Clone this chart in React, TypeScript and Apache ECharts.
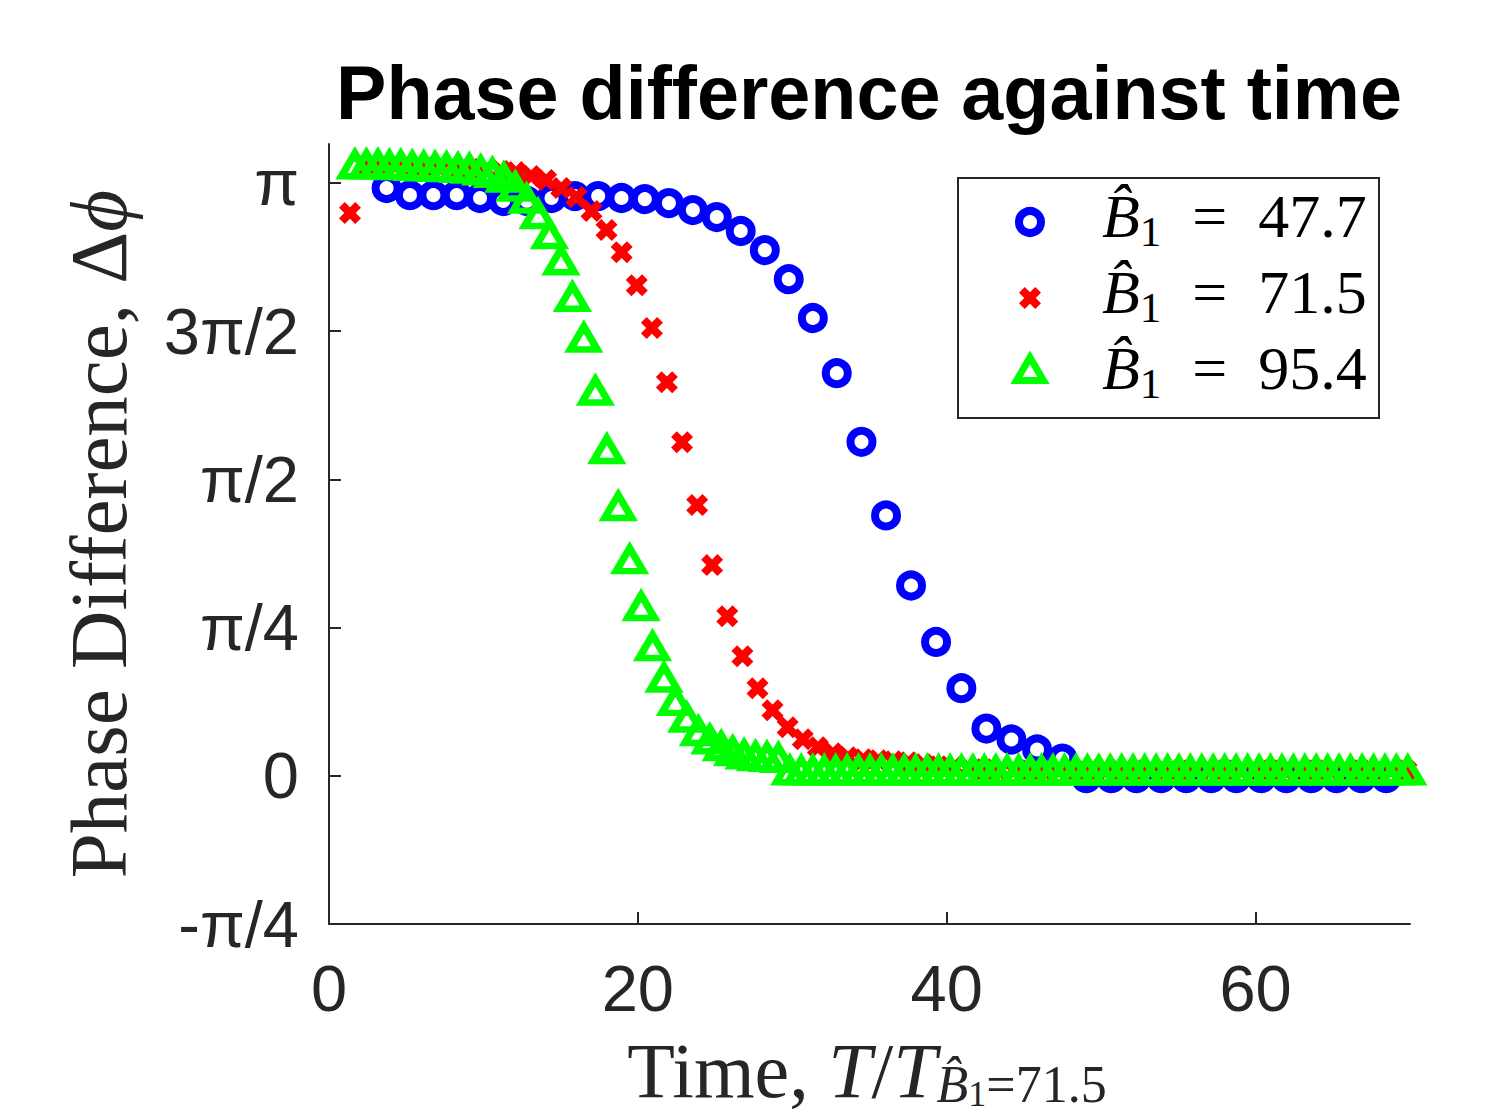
import React, { useEffect, useRef } from 'react';
import * as echarts from 'echarts';

const PI = Math.PI;

const titleText = 'Phase difference against time';
const xTicks = [0, 20, 40, 60];
const yTickValues = [-PI / 4, 0, PI / 4, PI / 2, (3 * PI) / 4, PI];
const yTickLabels = ['-π/4', '0', 'π/4', 'π/2', '3π/2', 'π'];
const legendValues = ['47.7', '71.5', '95.4'];

// B1 = 47.7 (blue circles)
const blueX = [3.73, 5.24, 6.76, 8.27, 9.78, 11.29, 12.82, 14.41, 15.92, 17.43, 18.94, 20.45, 22.01, 23.56, 25.11, 26.66, 28.22, 29.77, 31.33, 32.88, 34.48, 36.07, 37.69, 39.31, 40.95, 42.57, 44.19, 45.85, 47.49, 49.04, 50.66, 52.28, 53.89, 55.51, 57.13, 58.75, 60.37, 61.99, 63.61, 65.23, 66.85, 68.46];
const blueY = [3.114, 3.076, 3.076, 3.076, 3.061, 3.045, 3.045, 3.061, 3.071, 3.071, 3.061, 3.055, 3.034, 2.997, 2.96, 2.886, 2.785, 2.631, 2.425, 2.133, 1.769, 1.379, 1.008, 0.709, 0.464, 0.25, 0.192, 0.139, 0.091, -0.013, -0.013, -0.013, -0.013, -0.013, -0.013, -0.013, -0.013, -0.013, -0.013, -0.013, -0.013, -0.013];

// B1 = 71.5 (red crosses)
const redX = [1.36, 2.34, 3.31, 4.29, 5.27, 6.25, 7.22, 8.2, 9.18, 10.16, 11.13, 12.11, 13.09, 14.06, 15.04, 16.02, 17.0, 17.97, 18.95, 19.93, 20.91, 21.88, 22.86, 23.84, 24.81, 25.79, 26.77, 27.75, 28.72, 29.7, 30.68, 31.66, 32.63, 33.61, 34.59, 35.57, 36.54, 37.52, 38.5, 39.47, 40.45, 41.43, 42.41, 43.38, 44.36, 45.34, 46.32, 47.29, 48.27, 49.25, 50.23, 51.2, 52.18, 53.16, 54.13, 55.11, 56.09, 57.07, 58.04, 59.02, 60.0, 60.98, 61.95, 62.93, 63.91, 64.88, 65.86, 66.84, 67.82, 68.79, 69.77];
const redY = [2.981, 3.23, 3.23, 3.23, 3.225, 3.225, 3.219, 3.219, 3.214, 3.209, 3.204, 3.198, 3.177, 3.156, 3.114, 3.066, 2.992, 2.891, 2.774, 2.599, 2.372, 2.085, 1.767, 1.434, 1.116, 0.845, 0.633, 0.464, 0.347, 0.257, 0.193, 0.151, 0.119, 0.098, 0.087, 0.082, 0.077, 0.072, 0.061, 0.05, 0.045, 0.04, 0.034, 0.029, 0.029, 0.029, 0.029, 0.029, 0.029, 0.029, 0.029, 0.029, 0.029, 0.029, 0.029, 0.029, 0.029, 0.029, 0.029, 0.029, 0.029, 0.029, 0.029, 0.029, 0.029, 0.029, 0.029, 0.029, 0.029, 0.029, 0.029];

// B1 = 95.4 (green triangles)
const greenX = [1.68, 2.42, 3.17, 3.91, 4.65, 5.39, 6.13, 6.87, 7.61, 8.35, 9.09, 9.83, 10.58, 11.32, 12.06, 12.8, 13.54, 14.28, 15.02, 15.76, 16.5, 17.25, 17.99, 18.73, 19.47, 20.21, 20.95, 21.69, 22.43, 23.17, 23.92, 24.66, 25.4, 26.14, 26.88, 27.62, 28.36, 29.1, 29.84, 30.58, 31.33, 32.07, 32.81, 33.55, 34.29, 35.03, 35.77, 36.51, 37.25, 37.99, 38.74, 39.48, 40.22, 40.96, 41.7, 42.44, 43.18, 43.92, 44.66, 45.41, 46.15, 46.89, 47.63, 48.37, 49.11, 49.85, 50.59, 51.33, 52.07, 52.82, 53.56, 54.3, 55.04, 55.78, 56.52, 57.26, 58.0, 58.74, 59.49, 60.23, 60.97, 61.71, 62.45, 63.19, 63.93, 64.67, 65.41, 66.15, 66.9, 67.64, 68.38, 69.12, 69.86];
const greenY = [3.237, 3.237, 3.237, 3.233, 3.233, 3.229, 3.227, 3.224, 3.222, 3.218, 3.215, 3.205, 3.192, 3.167, 3.119, 3.055, 2.973, 2.867, 2.729, 2.535, 2.319, 2.038, 1.728, 1.427, 1.145, 0.897, 0.685, 0.518, 0.394, 0.306, 0.235, 0.191, 0.155, 0.129, 0.111, 0.102, 0.098, 0.093, 0.026, 0.026, 0.026, 0.026, 0.026, 0.026, 0.026, 0.026, 0.026, 0.026, 0.026, 0.026, 0.026, 0.026, 0.026, 0.026, 0.026, 0.026, 0.026, 0.026, 0.026, 0.026, 0.026, 0.026, 0.026, 0.026, 0.026, 0.026, 0.026, 0.026, 0.026, 0.026, 0.026, 0.026, 0.026, 0.026, 0.026, 0.026, 0.026, 0.026, 0.026, 0.026, 0.026, 0.026, 0.026, 0.026, 0.026, 0.026, 0.026, 0.026, 0.026, 0.026, 0.026, 0.026, 0.026];

const zip = (xs: number[], ys: number[]) => xs.map((x, i) => [x, ys[i]]);

const BLUE = '#0000ff';
const RED = '#ff0000';
const GREEN = '#00ff00';
const AX = '#262626';
const SERIF_NAME = 'Liberation Serif';
const SERIF = '"Liberation Serif", "DejaVu Serif", serif';
const SANS = '"Liberation Sans", Arial, sans-serif';

// X marker shape in a 10x10 box (thick arms)
const X_SHAPE: [number, number][] = [[2.6, 0], [5, 2.4], [7.4, 0], [10, 2.6], [7.6, 5], [10, 7.4], [7.4, 10], [5, 7.6], [2.6, 10], [0, 7.4], [2.4, 5], [0, 2.6]];
const X_PATH = 'path://M' + X_SHAPE.map((p) => p[0] + ',' + p[1]).join('L') + 'Z';

type Piece = { t: string; F: number; it?: boolean; dy?: number };

let measureCtx: CanvasRenderingContext2D | null = null;
const measure = (p: Piece) => {
  if (!measureCtx) measureCtx = document.createElement('canvas').getContext('2d');
  if (!measureCtx) return p.t.length * p.F * 0.5;
  measureCtx.font = (p.it ? 'italic ' : '') + p.F + 'px "' + SERIF_NAME + '"';
  return measureCtx.measureText(p.t).width;
};

// lay out pieces of math-like text on one baseline (sub/superscripts via dy)
const pieceTexts = (pieces: Piece[], x0: number, baseline: number, centered: boolean, fill: string, z: number) => {
  const widths = pieces.map(measure);
  const total = widths.reduce((a, b) => a + b, 0);
  let x = centered ? x0 - total / 2 : x0;
  return pieces.map((p, i) => {
    const el = {
      type: 'text',
      x,
      y: baseline + (p.dy || 0) - 0.3375 * p.F,
      z,
      style: {
        text: p.t,
        fontFamily: SERIF,
        fontSize: p.F,
        fontStyle: p.it ? 'italic' : 'normal',
        fill,
        align: 'left',
        verticalAlign: 'middle',
      },
    };
    x += widths[i];
    return el;
  });
};

export default function App() {
  const ref = useRef<HTMLDivElement>(null);
  useEffect(() => {
    if (!ref.current) return;
    const chart = echarts.init(ref.current, undefined, { renderer: 'svg' });

    const legendX = 1030;
    const rowY = [222, 298, 369];
    const legendBase = [237, 313, 389];
    const xSize = 22;

    const legendTexts = legendValues.flatMap((v, i) =>
      pieceTexts(
        [
          { t: 'B\u0302', F: 62, it: true },
          { t: '1', F: 43, dy: 9 },
          { t: '\u2002=\u2002' + v, F: 62 },
        ],
        1102,
        legendBase[i],
        false,
        '#000',
        101
      )
    );

    const xNameTexts = pieceTexts(
      [
        { t: 'Time, ', F: 78 },
        { t: 'T', F: 78, it: true },
        { t: '/', F: 78 },
        { t: 'T', F: 78, it: true },
        { t: 'B\u0302', F: 52, it: true, dy: 5 },
        { t: '1', F: 36, dy: 9 },
        { t: '=71.5', F: 52, dy: 5 },
      ],
      867,
      1097,
      true,
      AX,
      10
    );

    const option: any = {
      animation: false,
      backgroundColor: '#fff',
      title: {
        text: titleText,
        left: 864,
        top: 50,
        textAlign: 'center',
        textStyle: { fontFamily: SANS, fontWeight: 'bold', fontSize: 75.5, color: '#000' },
      },
      grid: { left: 329, top: 144, width: 1081, height: 780, containLabel: false, outerBoundsMode: 'none' },
      xAxis: {
        type: 'value',
        min: 0,
        max: 70,
        axisLine: { show: true, onZero: false, lineStyle: { color: AX, width: 2 } },
        axisTick: { show: true, inside: true, length: 12, customValues: xTicks, lineStyle: { color: AX, width: 2 } },
        axisLabel: { customValues: xTicks, margin: 32, fontFamily: SANS, fontSize: 65, color: AX },
        splitLine: { show: false },
      },
      yAxis: {
        type: 'value',
        min: -PI / 4,
        max: 3.347,
        axisLine: { show: true, onZero: false, lineStyle: { color: AX, width: 2 } },
        axisTick: { show: true, inside: true, length: 12, customValues: yTickValues, lineStyle: { color: AX, width: 2 } },
        axisLabel: {
          customValues: yTickValues,
          margin: 30,
          fontFamily: SANS,
          fontSize: 65,
          color: AX,
          formatter: (v: number) => {
            const i = yTickValues.findIndex((t) => Math.abs(t - v) < 1e-6);
            return i >= 0 ? yTickLabels[i] : '';
          },
        },
        splitLine: { show: false },
        name: '{m|Phase Difference, Δ}{i|ϕ}',
        nameLocation: 'middle',
        nameRotate: 90,
        nameGap: 185,
        nameTextStyle: {
          fontFamily: SERIF,
          fontSize: 81,
          color: AX,
          rich: {
            m: { fontFamily: SERIF, fontSize: 81, lineHeight: 90, color: AX },
            i: { fontFamily: SERIF, fontSize: 81, fontStyle: 'italic', lineHeight: 90, color: AX },
          },
        },
      },
      series: [
        {
          type: 'scatter',
          name: 'B1 = 47.7',
          data: zip(blueX, blueY),
          symbol: 'circle',
          symbolSize: 22,
          clip: false,
          itemStyle: { color: 'rgba(0,0,0,0)', borderColor: BLUE, borderWidth: 8, opacity: 1 },
          emphasis: { disabled: true },
        },
        {
          type: 'scatter',
          name: 'B1 = 71.5',
          data: zip(redX, redY),
          symbol: X_PATH,
          symbolSize: 22,
          clip: false,
          itemStyle: { color: RED, borderWidth: 0, opacity: 1 },
          emphasis: { disabled: true },
        },
        {
          type: 'scatter',
          name: 'B1 = 95.4',
          data: zip(greenX, greenY),
          symbol: 'triangle',
          symbolSize: [27, 23],
          clip: false,
          itemStyle: { color: 'rgba(0,0,0,0)', borderColor: GREEN, borderWidth: 7, opacity: 1 },
          emphasis: { disabled: true },
        },
      ],
      graphic: [
        ...xNameTexts,
        {
          type: 'rect',
          shape: { x: 958, y: 178, width: 421, height: 240 },
          style: { fill: '#fff', stroke: AX, lineWidth: 2 },
          z: 100,
        },
        {
          type: 'circle',
          shape: { cx: legendX, cy: rowY[0], r: 11 },
          style: { fill: 'none', stroke: BLUE, lineWidth: 8 },
          z: 101,
        },
        {
          type: 'polygon',
          shape: { points: X_SHAPE.map((p) => [legendX + (p[0] - 5) * (xSize / 10), rowY[1] + (p[1] - 5) * (xSize / 10)]) },
          style: { fill: RED, stroke: 'none' },
          z: 101,
        },
        {
          type: 'polygon',
          shape: { points: [[legendX, rowY[2] - 11.5], [legendX + 13.5, rowY[2] + 11.5], [legendX - 13.5, rowY[2] + 11.5]] },
          style: { fill: 'none', stroke: GREEN, lineWidth: 7, lineJoin: 'miter' },
          z: 101,
        },
        ...legendTexts,
      ],
    };
    chart.setOption(option);
    return () => chart.dispose();
  }, []);
  return <div ref={ref} style={{ position: 'absolute', left: 0, top: 0, width: 1488, height: 1115 }} />;
}
